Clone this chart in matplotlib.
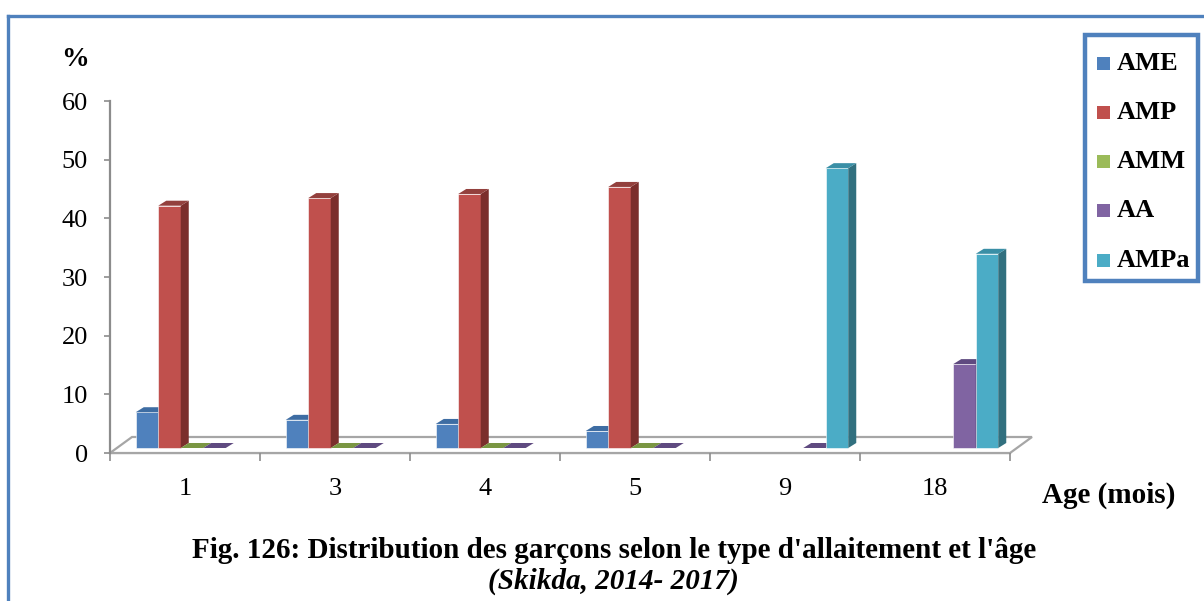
import numpy as np
import matplotlib
matplotlib.use("Agg")
import matplotlib.pyplot as plt
from matplotlib.patches import Polygon, Rectangle
from matplotlib.lines import Line2D

# ---- data -------------------------------------------------------------
ages = ["1", "3", "4", "5", "9", "18"]
series_names = ["AME", "AMP", "AMM", "AA", "AMPa"]
nan = np.nan
ame = [6.1, 4.8, 4.1, 2.9, nan, nan]
amp = [41.3, 42.6, 43.3, 44.5, nan, nan]
amm = [0, 0, 0, 0, nan, nan]
aa = [0, 0, 0, 0, 0, 14.3]
ampa = [nan, nan, nan, nan, 47.7, 33.1]
values = [ame, amp, amm, aa, ampa]

# face colours: front, top, side
front_cols = ["#4F81BD", "#C0504D", "#9BBB59", "#8064A2", "#4BACC6"]
top_cols = ["#3E6DA3", "#93403D", "#7A9642", "#5F4A80", "#3A8FA6"]
side_cols = ["#37618F", "#7B2E2C", "#6A8338", "#564274", "#31707F"]

W, H = 1204, 601
fig = plt.figure(figsize=(W / 100, H / 100), dpi=100)
fig.patch.set_facecolor("white")

serif = "Liberation Serif"
grey = "#8C8C8C"


def fx(px):
    return px / W


def fy(py):
    return 1 - py / H


# plot area: x in category slots, y in percent
ax_l, ax_r, ax_b, ax_t = 110, 1010, 453, 101
ax = fig.add_axes([fx(ax_l), fy(ax_b), (ax_r - ax_l) / W, (ax_b - ax_t) / H])
ax.set_xlim(0, len(ages))
ax.set_ylim(0, 60)
ax.set_facecolor("none")

px_x = len(ages) / (ax_r - ax_l)     # data units per pixel (x)
px_y = 60 / (ax_b - ax_t)            # data units per pixel (y)

# 3-D floor
fdx, fdy = 22 * px_x, 16 * px_y
floor = Polygon([(0, 0), (len(ages), 0), (len(ages) + fdx, fdy), (fdx, fdy)],
                closed=True, facecolor="white", edgecolor="#A6A6A6",
                lw=1.6, clip_on=False, zorder=1)
ax.add_patch(floor)

# bar geometry
slot_margin = 18.75 * px_x
bar_w = 22.5 * px_x
plane_dx, plane_dy = 7 * px_x, 5 * px_y
ddx, ddy = 8 * px_x, 5 * px_y

z = 2
for i in range(len(ages)):
    for j, vals in enumerate(values):
        v = vals[i]
        if np.isnan(v):
            continue
        x0 = i + slot_margin + j * bar_w + plane_dx
        x1 = x0 + bar_w
        y0 = plane_dy
        y1 = y0 + v
        if v > 0:
            ax.add_patch(Polygon([(x0, y0), (x1, y0), (x1, y1), (x0, y1)],
                                 facecolor=front_cols[j], edgecolor="#FFFFFF",
                                 lw=0.4, clip_on=False, zorder=z))
            ax.add_patch(Polygon([(x1, y0), (x1 + ddx, y0 + ddy),
                                  (x1 + ddx, y1 + ddy), (x1, y1)],
                                 facecolor=side_cols[j], edgecolor="none",
                                 clip_on=False, zorder=z))
        ax.add_patch(Polygon([(x0, y1), (x1, y1), (x1 + ddx, y1 + ddy),
                              (x0 + ddx, y1 + ddy)],
                             facecolor=top_cols[j], edgecolor="none",
                             clip_on=False, zorder=z))
        z += 1

# axes styling
for s in ["top", "right"]:
    ax.spines[s].set_visible(False)
ax.spines["left"].set_color(grey)
ax.spines["left"].set_linewidth(1.6)
ax.spines["bottom"].set_color("#A6A6A6")
ax.spines["bottom"].set_linewidth(1.6)
ax.spines["bottom"].set_zorder(0.5)

ax.set_yticks(np.arange(0, 61, 10))
ax.set_yticklabels([str(t) for t in range(0, 61, 10)], fontfamily=serif, fontsize=19)
ax.tick_params(axis="y", direction="out", length=4.5, width=1.2, color=grey, pad=11.5)

ax.set_xticks(np.arange(0, len(ages) + 1))
ax.set_xticklabels([])
ax.set_xticks(np.arange(len(ages)) + 0.5, minor=True)
ax.set_xticklabels(ages, minor=True, fontfamily=serif, fontsize=19)
ax.tick_params(axis="x", which="major", direction="out", length=5.5, width=1.2, color=grey)
ax.tick_params(axis="x", which="minor", length=0, pad=18)

# labels
fig.text(fx(75), fy(60), "%", ha="center", va="center",
         fontfamily=serif, fontsize=20, fontweight="bold")
fig.text(fx(1109), fy(495), "Age (mois)", ha="center", va="center",
         fontfamily=serif, fontsize=21, fontweight="bold")
fig.text(fx(614), fy(550),
         "Fig. 126: Distribution des garçons selon le type d'allaitement et l'âge",
         ha="center", va="center", fontfamily=serif, fontsize=21, fontweight="bold")
fig.text(fx(613), fy(581), "(Skikda, 2014- 2017)", ha="center", va="center",
         fontfamily=serif, fontsize=21, fontweight="bold", fontstyle="italic")

# legend box with colour keys
fig.add_artist(Rectangle((fx(1085), fy(281)), (1198 - 1085) / W, (281 - 35) / H,
                         transform=fig.transFigure, facecolor="white",
                         edgecolor="#4F81BD", lw=3.2, zorder=5))
entry_y = [63, 112, 161, 210, 260]
for name, col, yy in zip(series_names, front_cols, entry_y):
    fig.add_artist(Rectangle((fx(1097), fy(yy + 6.5)), 13 / W, 13 / H,
                             transform=fig.transFigure, facecolor=col,
                             edgecolor="none", zorder=6))
    fig.text(fx(1117), fy(yy - 2), name, ha="left", va="center_baseline",
             fontfamily=serif, fontsize=19, fontweight="bold", zorder=6)

# outer frame (top and left edges visible)
fig.add_artist(Line2D([fx(8), 1.0], [fy(16), fy(16)], color="#4F81BD",
                      lw=2.4, transform=fig.transFigure))
fig.add_artist(Line2D([fx(8), fx(8)], [0.0, fy(16)], color="#4F81BD",
                      lw=2.4, transform=fig.transFigure))

fig.savefig("out.png", dpi=100)
